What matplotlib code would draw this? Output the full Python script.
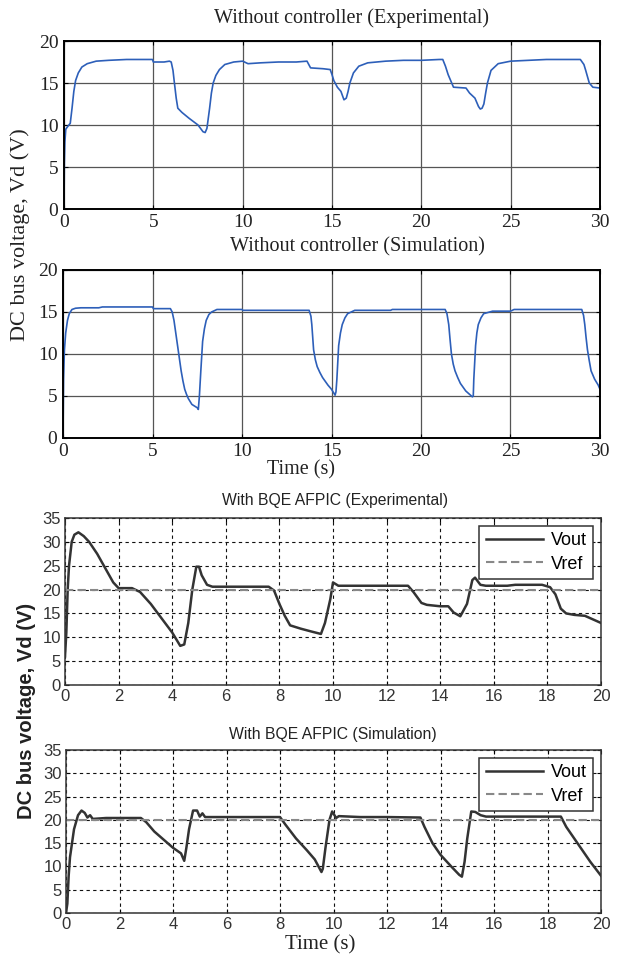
import matplotlib
matplotlib.use("Agg")
import matplotlib.pyplot as plt

# ---------------- data ----------------
# Panel 1: Without controller (Experimental)
t1 = [0, 0.02, 0.05, 0.1, 0.2, 0.35, 0.45, 0.55, 0.65, 0.8, 1.0, 1.3, 1.8, 2.5, 3.5, 4.95, 5.0, 5.6, 5.9,
      6.0, 6.1, 6.18, 6.28, 6.37, 6.6, 7.0, 7.5, 7.78, 7.9, 8.0, 8.15, 8.25, 8.35, 8.5, 8.7, 9.0, 9.5,
      10.0, 10.3, 11.0, 12.0, 13.0, 13.6, 13.8, 14.5, 14.9, 15.0, 15.1, 15.3, 15.5, 15.67, 15.8, 15.9,
      16.0, 16.2, 16.5, 17.0, 18.0, 19.0, 20.0, 21.0, 21.2, 21.35, 21.5, 21.8, 22.5, 22.7, 23.0,
      23.2, 23.3, 23.4, 23.5, 23.6, 23.7, 23.9, 24.3, 25.0, 26.0, 27.0, 28.0, 28.9, 29.1, 29.2,
      29.4, 29.6, 30.0]
v1 = [0, 5.5, 8.0, 9.5, 9.8, 10.2, 12.0, 14.0, 15.3, 16.2, 16.9, 17.3, 17.6, 17.7, 17.8, 17.8, 17.5, 17.5, 17.6,
      17.5, 16.5, 15.0, 13.2, 12.0, 11.5, 10.8, 10.0, 9.2, 9.1, 9.6, 12.0, 13.8, 15.0, 15.9, 16.6, 17.2, 17.5,
      17.6, 17.3, 17.4, 17.5, 17.5, 17.6, 16.8, 16.7, 16.6, 16.0, 15.3, 14.5, 14.0, 13.0, 13.2, 14.0,
      15.0, 16.2, 17.0, 17.4, 17.6, 17.7, 17.7, 17.8, 17.8, 17.0, 16.0, 14.5, 14.4, 13.8, 13.2,
      12.2, 11.9, 12.0, 12.5, 13.8, 15.0, 16.5, 17.3, 17.6, 17.7, 17.8, 17.8, 17.8, 17.2, 16.5,
      15.0, 14.5, 14.4]

# Panel 2: Without controller (Simulation)
t2 = [0, 0.03, 0.08, 0.15, 0.25, 0.35, 0.5, 0.7, 1.0, 2.0, 2.2, 5.0, 5.05, 6.0, 6.1, 6.2, 6.3, 6.4, 6.5,
      6.6, 6.7, 6.8, 6.9, 7.0, 7.2, 7.5, 7.56, 7.62, 7.7, 7.8, 7.9, 8.0, 8.15, 8.3, 8.6, 10.0, 10.05,
      13.75, 13.85, 13.9, 13.95, 14.0, 14.1, 14.2, 14.35, 14.5, 14.8, 15.0, 15.2, 15.25, 15.3, 15.35,
      15.4, 15.5, 15.6, 15.75, 15.9, 16.3, 18.3, 18.4, 21.35, 21.45, 21.55, 21.62, 21.7, 21.8, 21.9,
      22.05, 22.2, 22.5, 22.87, 22.92, 22.95, 23.0, 23.05, 23.12, 23.2, 23.35, 23.5, 24.0, 25.0,
      25.2, 28.98, 29.08, 29.15, 29.22, 29.3, 29.4, 29.5, 29.7, 29.9, 30.0]
v2 = [0, 7.0, 10.5, 12.5, 14.0, 14.8, 15.3, 15.45, 15.5, 15.5, 15.6, 15.6, 15.4, 15.4, 15.0, 14.0, 12.5, 11.0, 9.5,
      8.0, 6.8, 5.8, 5.2, 4.7, 4.0, 3.6, 3.4, 5.0, 8.0, 11.5, 13.0, 14.0, 14.7, 15.0, 15.3, 15.3, 15.2,
      15.2, 14.5, 13.5, 12.0, 10.5, 9.3, 8.5, 7.8, 7.2, 6.3, 5.8, 5.1, 5.5, 7.0, 9.0,
      11.0, 12.5, 13.5, 14.3, 14.8, 15.2, 15.2, 15.3, 15.3, 14.8, 13.5, 11.8, 10.0, 8.8, 8.0,
      7.2, 6.5, 5.6, 4.9, 5.0, 7.0, 9.0, 11.0, 12.5, 13.5, 14.3, 14.8, 15.1, 15.1,
      15.3, 15.3, 14.6, 13.5, 12.0, 10.5, 9.2, 8.0, 7.0, 6.3, 5.8]

# Panel 3: With BQE AFPIC (Experimental)
t3 = [0, 0.05, 0.1, 0.15, 0.25, 0.35, 0.5, 0.7, 0.9, 1.2, 1.5, 1.8, 2.0, 2.5, 2.8, 3.2, 3.6, 4.0, 4.3,
      4.45, 4.6, 4.75, 4.9, 5.0, 5.1, 5.3, 5.5, 7.6, 7.8, 8.0, 8.2, 8.4, 8.8, 9.2, 9.55, 9.7, 9.9,
      10.0, 10.2, 12.8, 13.0, 13.3, 13.5, 14.0, 14.3, 14.5, 14.75, 15.0, 15.2, 15.3, 15.5, 15.7,
      16.5, 16.8, 17.8, 18.1, 18.3, 18.5, 18.7, 19.0, 19.4, 19.8, 20.0]
v3 = [6, 11, 20, 25, 30, 31.5, 32, 31.2, 30, 27.5, 24.5, 21.5, 20.3, 20.3, 19.5, 17, 14, 11, 8.2,
      8.5, 13, 20, 24.8, 24.8, 23, 21, 20.6, 20.6, 19.8, 17, 14.5, 12.5, 11.8, 11.2, 10.7, 13, 18,
      21.5, 20.8, 20.8, 19.5, 17.2, 16.8, 16.5, 16.5, 15.2, 14.4, 17, 22, 22.5, 21, 20.8,
      20.8, 21, 21, 20.5, 19, 16, 15, 14.7, 14.5, 13.5, 13]

# Panel 4: With BQE AFPIC (Simulation)
t4 = [0, 0.05, 0.1, 0.15, 0.3, 0.45, 0.58, 0.7, 0.8, 0.9, 1.0, 1.5, 2.0, 2.8, 3.0, 3.3, 3.7, 4.0,
      4.3, 4.42, 4.5, 4.6, 4.75, 4.9, 5.0, 5.1, 5.2, 6.0, 8.0, 8.2, 8.6, 9.0, 9.3, 9.55, 9.6, 9.7,
      9.85, 9.95, 10.1, 10.2, 11.0, 12.0, 13.25, 13.4, 13.7, 14.0, 14.4, 14.7, 14.8, 14.9, 15.0,
      15.15, 15.3, 15.5, 15.7, 17.0, 18.5, 18.7, 19.0, 19.3, 19.6, 20.0]
v4 = [0, 2, 8, 12, 18, 21, 22, 21.5, 20.5, 21, 20.2, 20.4, 20.4, 20.4, 19.5, 17.5, 15.5, 14,
      12.8, 11.2, 14, 18, 22, 22, 20.7, 21.4, 20.6, 20.6, 20.6, 19, 16, 13.5, 11.5, 8.8, 9.5, 14,
      20, 21.8, 20.4, 20.8, 20.6, 20.6, 20.5, 18.5, 15, 12.5, 10, 8.2, 7.8, 11, 16,
      21.8, 21.7, 21, 20.7, 20.7, 20.7, 18.5, 16, 13.5, 11, 8]

vref = 20

titles = ["Without controller (Experimental)", "Without controller (Simulation)",
          "With BQE AFPIC (Experimental)", "With BQE AFPIC (Simulation)"]
ylabel = "DC bus voltage, Vd (V)"
xlabel = "Time (s)"

# ---------------- figure ----------------
W, H = 617, 959
fig = plt.figure(figsize=(W / 100, H / 100), dpi=100)

def rect(l, r, t, b):
    return [l / W, 1 - b / H, (r - l) / W, (b - t) / H]

serif = "Liberation Serif"
sans = "Liberation Sans"
blue = "#2d5fb9"

ax1 = fig.add_axes(rect(64, 600, 41, 209))
ax2 = fig.add_axes(rect(63, 600, 270, 438))
ax3 = fig.add_axes(rect(65, 601, 518, 685))
ax4 = fig.add_axes(rect(66, 601, 750, 913))

for ax, t, v in [(ax1, t1, v1), (ax2, t2, v2)]:
    ax.plot(t, v, color=blue, lw=1.2)
    ax.set_xlim(0, 30)
    ax.set_ylim(0, 20)
    ax.set_xticks(range(0, 31, 5))
    ax.set_yticks(range(0, 21, 5))
    ax.grid(True, color="#555555", lw=0.9)
    ax.set_axisbelow(True)
    ax.tick_params(direction="in", length=3, top=True, right=True, labelsize=14)
    ax.tick_params(axis="x", pad=3.5)
    ax.tick_params(axis="y", pad=4)
    for lab in ax.get_xticklabels() + ax.get_yticklabels():
        lab.set_fontfamily(serif)
        lab.set_color("#222222")
    for s in ax.spines.values():
        s.set_linewidth(1.4)

for ax, t, v in [(ax3, t3, v3), (ax4, t4, v4)]:
    ax.plot(t, v, color="#333333", lw=1.8, label="Vout")
    ax.axhline(vref, color="#888888", lw=1.5, ls=(0, (4, 2)), label="Vref")
    ax.set_xlim(0, 20)
    ax.set_ylim(0, 35)
    ax.set_xticks(range(0, 21, 2))
    ax.set_yticks(range(0, 36, 5))
    ax.grid(True, color="#111111", lw=0.8, ls=(0, (3, 3)))
    ax.tick_params(direction="in", length=3, top=True, right=True, labelsize=12, pad=3)
    for lab in ax.get_xticklabels() + ax.get_yticklabels():
        lab.set_fontfamily(sans)
        lab.set_color("#333333")
    for s in ax.spines.values():
        s.set_linewidth(1.1)
        s.set_color("#333333")
    leg = ax.legend(loc="upper right", prop={"family": sans, "size": 13},
                    fancybox=False, framealpha=1, edgecolor="#333333",
                    handlelength=3.2, borderaxespad=0.45, labelspacing=0.35,
                    handletextpad=0.4, borderpad=0.35)
    leg.get_frame().set_linewidth(1.1)

# titles
fig.text(352 / W, 1 - 18 / H, titles[0], family=serif, fontsize=14.5, ha="center", va="center", color="#222222")
fig.text(357 / W, 1 - 247 / H, titles[1], family=serif, fontsize=14.5, ha="center", va="center", color="#222222")
fig.text(335 / W, 1 - 500 / H, titles[2], family=sans, fontsize=11.3, ha="center", va="center", color="#222222")
fig.text(333 / W, 1 - 735 / H, titles[3], family=sans, fontsize=11.3, ha="center", va="center", color="#222222")

# axis labels
fig.text(20 / W, 1 - 235 / H, ylabel, family=serif, fontsize=16, rotation=90, ha="center", va="center", color="#222222")
fig.text(27 / W, 1 - 711 / H, ylabel, family=sans, fontsize=14.5, fontweight="bold", rotation=90, ha="center", va="center", color="#222222")
fig.text(301 / W, 1 - 470 / H, xlabel, family=serif, fontsize=14.5, ha="center", va="center", color="#222222")
fig.text(320 / W, 1 - 945 / H, xlabel, family=serif, fontsize=15, ha="center", va="center", color="#222222")

fig.savefig("out.png", dpi=100)
